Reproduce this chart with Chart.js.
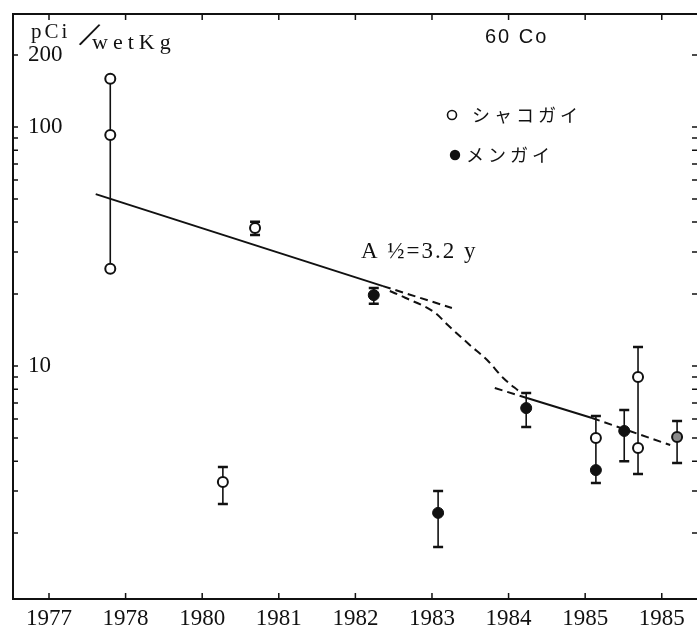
<!DOCTYPE html>
<html>
<head>
<meta charset="utf-8">
<script src="https://cdn.jsdelivr.net/npm/chart.js@4.4.1/dist/chart.umd.min.js"></script>
<style>
  html, body { margin: 0; padding: 0; background: #fff; overflow: hidden; }
  #wrap { width: 697px; height: 633px; }
</style>
</head>
<body>
<div id="wrap"><canvas id="co60" width="697" height="633"></canvas></div>
<script>
// x is measured along the printed axis: tick n sits at 1977 + n
const xTickValues = [1977, 1978, 1979, 1980, 1981, 1982, 1983, 1984, 1985];
const xTickLabels = ['1977', '1978', '1980', '1981', '1982', '1983', '1984', '1985', '1985'];
const yTickValues = [2, 3, 4, 5, 6, 7, 8, 9, 10, 20, 30, 40, 50, 60, 70, 80, 90, 100, 200];
const yLabelValues = [10, 100, 200];
const legendLabels = ['シャコガイ', 'メンガイ'];

// シャコガイ (open circles)
const shakoX = [1977.80, 1977.80, 1977.80, 1979.69, 1979.27, 1984.14, 1984.69, 1984.69];
const shakoY = [159, 92.6, 25.5, 37.8, 3.27, 5.00, 9.0, 4.54];
// メンガイ (filled circles)
const menX = [1981.24, 1982.08, 1983.23, 1984.14, 1984.51];
const menY = [19.8, 2.43, 6.67, 3.67, 5.35];
// half filled one
const mixX = [1985.20];
const mixY = [5.05];

// error bars / ranges
const barX    = [1977.80, 1979.69, 1979.27, 1981.24, 1982.08, 1983.23, 1984.14, 1984.51, 1984.69, 1985.20];
const barLow  = [25.5, 35.3, 2.65, 18.2, 1.75, 5.56, 3.24, 4.00, 3.53, 3.93];
const barHigh = [159, 40.1, 3.78, 21.2, 3.00, 7.71, 6.18, 6.54, 12.0, 5.89];
const barCaps = [false, true, true, true, true, true, true, true, true, true];

// decay fit lines
const fit1X = [1977.61, 1981.36];
const fit1Y = [52.4, 21.6];
const fit1ExtX = [1981.36, 1982.26];
const fit1ExtY = [21.6, 17.5];
const bendX = [1981.45, 1981.65, 1982.04, 1982.21, 1982.50, 1982.72, 1982.93, 1983.15];
const bendY = [20.6, 19.3, 16.7, 14.8, 12.2, 10.6, 8.91, 7.78];
const fit2LeftX = [1982.82, 1983.24];
const fit2LeftY = [8.09, 7.35];
const fit2X = [1983.24, 1984.09];
const fit2Y = [7.35, 6.06];
const fit2RightX = [1984.09, 1985.11];
const fit2RightY = [6.06, 4.67];

const xMin = 1976.53, xMax = 1985.46;
const yMin = 1.06, yMax = 297;

const INK = '#111';
const SERIF = "'Liberation Serif', 'DejaVu Serif', serif";

function pts(xs, ys) {
    return xs.map((x, i) => ({x: x, y: ys[i]}));
}

function fitLine(xs, ys, dashed) {
    return {
        data: pts(xs, ys),
        showLine: true,
        pointRadius: 0,
        borderColor: INK,
        borderWidth: 2,
        borderDash: dashed ? [8, 5] : [],
        fill: false,
        order: 5
    };
}

const errorBars = {
    id: 'errorBars',
    beforeDatasetsDraw(chart) {
        const {ctx, scales: {x, y}} = chart;
        ctx.save();
        ctx.strokeStyle = INK;
        barX.forEach((bx, i) => {
            const px = x.getPixelForValue(bx);
            const top = y.getPixelForValue(barHigh[i]);
            const bot = y.getPixelForValue(barLow[i]);
            ctx.lineWidth = 1.6;
            ctx.beginPath();
            ctx.moveTo(px, top);
            ctx.lineTo(px, bot);
            ctx.stroke();
            if (barCaps[i]) {
                ctx.lineWidth = 2.5;
                ctx.beginPath();
                ctx.moveTo(px - 5, top);
                ctx.lineTo(px + 5, top);
                ctx.moveTo(px - 5, bot);
                ctx.lineTo(px + 5, bot);
                ctx.stroke();
            }
        });
        ctx.restore();
    }
};

// top frame line and the short inward tick marks on all four sides
const frameTicks = {
    id: 'frameTicks',
    afterDraw(chart) {
        const {ctx, chartArea: a, scales: {x, y}} = chart;
        ctx.save();
        ctx.strokeStyle = INK;
        ctx.lineWidth = 2;
        ctx.beginPath();
        ctx.moveTo(a.left, a.top);
        ctx.lineTo(a.right, a.top);
        ctx.stroke();
        ctx.lineWidth = 1.5;
        ctx.beginPath();
        xTickValues.forEach(v => {
            const px = x.getPixelForValue(v);
            ctx.moveTo(px, a.bottom);
            ctx.lineTo(px, a.bottom - 6);
            ctx.moveTo(px, a.top);
            ctx.lineTo(px, a.top + 6);
        });
        yTickValues.forEach(v => {
            const py = y.getPixelForValue(v);
            ctx.moveTo(a.left, py);
            ctx.lineTo(a.left + 5, py);
            ctx.moveTo(a.right, py);
            ctx.lineTo(a.right - 5, py);
        });
        ctx.stroke();
        ctx.restore();
    }
};

const notes = {
    id: 'notes',
    afterDraw(chart) {
        const ctx = chart.ctx;
        ctx.save();
        ctx.fillStyle = INK;
        ctx.strokeStyle = INK;
        ctx.textBaseline = 'alphabetic';

        // unit
        ctx.font = '21px ' + SERIF;
        ctx.letterSpacing = '3px';
        ctx.fillText('pCi', 31, 38);
        ctx.font = '22px ' + SERIF;
        ctx.letterSpacing = '5px';
        ctx.fillText('wetKg', 92, 49);
        ctx.letterSpacing = '0px';
        ctx.save();
        ctx.translate(79, 44);
        ctx.rotate(0.45);
        ctx.font = '40px ' + SERIF;
        ctx.fillText('/', 0, 0);
        ctx.restore();

        // nuclide
        ctx.font = "20px 'Liberation Sans', sans-serif";
        ctx.letterSpacing = '2px';
        ctx.fillText('60 Co', 485, 43);

        // legend
        ctx.lineWidth = 1.6;
        ctx.beginPath();
        ctx.arc(452, 115, 4.5, 0, Math.PI * 2);
        ctx.stroke();
        ctx.beginPath();
        ctx.arc(455, 155, 5.2, 0, Math.PI * 2);
        ctx.fill();
        ctx.font = "18px 'Noto Sans CJK JP', sans-serif";
        ctx.letterSpacing = '4px';
        ctx.textBaseline = 'middle';
        ctx.fillText(legendLabels[0], 472, 115);
        ctx.fillText(legendLabels[1], 466, 155);

        // half-life note
        ctx.textBaseline = 'alphabetic';
        ctx.font = '23px ' + SERIF;
        ctx.letterSpacing = '2px';
        ctx.fillText('A ½=3.2 y', 361, 258);
        ctx.restore();
    }
};

const chart = new Chart(document.getElementById('co60').getContext('2d'), {
    type: 'scatter',
    data: {
        datasets: [
            {
                label: legendLabels[0],
                data: pts(shakoX, shakoY),
                pointRadius: 5,
                pointBorderWidth: 2,
                pointBackgroundColor: '#fff',
                pointBorderColor: INK,
                order: 1
            },
            {
                label: legendLabels[1],
                data: pts(menX, menY),
                pointRadius: 5.5,
                pointBorderWidth: 1,
                pointBackgroundColor: INK,
                pointBorderColor: INK,
                order: 1
            },
            {
                label: 'mixed',
                data: pts(mixX, mixY),
                pointRadius: 5,
                pointBorderWidth: 2,
                pointBackgroundColor: '#8a8a8a',
                pointBorderColor: INK,
                order: 1
            },
            fitLine(fit1X, fit1Y, false),
            fitLine(fit1ExtX, fit1ExtY, true),
            Object.assign(fitLine(bendX, bendY, true), {cubicInterpolationMode: 'monotone'}),
            fitLine(fit2LeftX, fit2LeftY, true),
            fitLine(fit2X, fit2Y, false),
            fitLine(fit2RightX, fit2RightY, true)
        ]
    },
    options: {
        responsive: false,
        animation: false,
        layout: {autoPadding: false, padding: {left: 13, top: 14, right: 0, bottom: 0}},
        plugins: {
            legend: {display: false},
            tooltip: {enabled: false}
        },
        scales: {
            x: {
                type: 'linear',
                min: xMin,
                max: xMax,
                afterBuildTicks: s => { s.ticks = xTickValues.map(v => ({value: v})); },
                afterFit: s => { s.height = 34; s.paddingLeft = 0; s.paddingRight = 0; },
                ticks: {
                    callback: (v, i) => xTickLabels[i],
                    font: {family: SERIF, size: 23},
                    color: INK,
                    padding: 6,
                    autoSkip: false,
                    maxRotation: 0
                },
                grid: {display: false, drawTicks: false},
                border: {display: true, color: INK, width: 2}
            },
            y: {
                type: 'logarithmic',
                min: yMin,
                max: yMax,
                afterBuildTicks: s => { s.ticks = yTickValues.map(v => ({value: v})); },
                afterFit: s => { s.width = 0; s.paddingTop = 0; s.paddingBottom = 0; },
                ticks: {
                    mirror: true,
                    padding: 15,
                    callback: v => yLabelValues.includes(v) ? String(v) : '',
                    font: {family: SERIF, size: 23},
                    color: INK,
                    autoSkip: false
                },
                grid: {display: false, drawTicks: false},
                border: {display: true, color: INK, width: 2}
            }
        }
    },
    plugins: [errorBars, frameTicks, notes]
});
</script>
</body>
</html>
